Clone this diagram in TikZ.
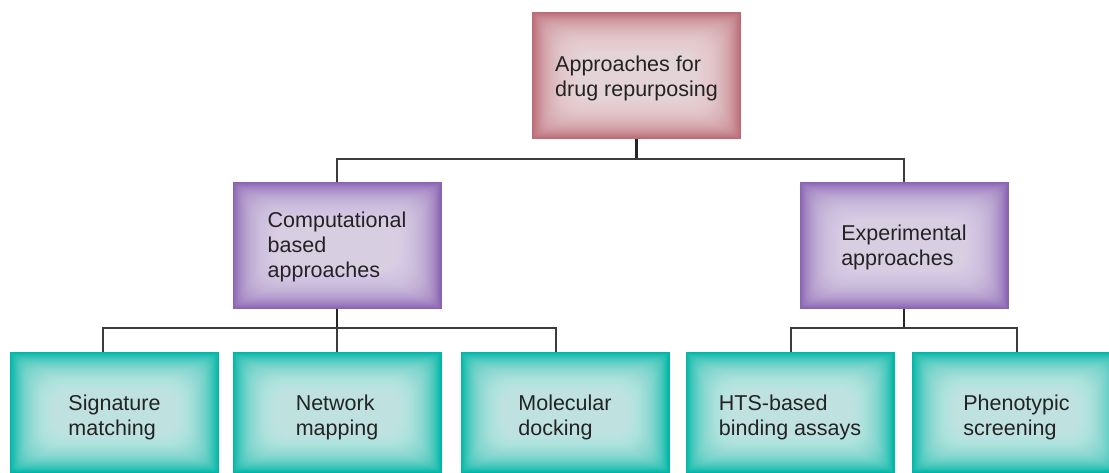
\documentclass[tikz,border=0pt]{standalone}
\usepackage{fontspec}
\setmainfont{Liberation Sans}
\definecolor{roseout}{RGB}{186,106,116}
\definecolor{rosein}{RGB}{244,228,231}
\definecolor{purpout}{RGB}{137,98,178}
\definecolor{purpin}{RGB}{232,224,242}
\definecolor{tealout}{RGB}{0,182,166}
\definecolor{tealin}{RGB}{218,242,240}
\definecolor{txt}{RGB}{35,35,35}
\definecolor{wire}{RGB}{60,60,60}
\tikzset{
  vignette/.style 2 args={fill=#1, draw=none, path picture={
      \foreach \i in {1,...,40} {
        \pgfmathsetmacro{\rad}{min(0.9*\i,18)}
        \fill[#2, opacity=0.06, rounded corners=\rad pt]
          ([shift={(1.1*\i pt,-\i pt)}]path picture bounding box.north west)
          rectangle
          ([shift={(-1.1*\i pt,\i pt)}]path picture bounding box.south east);
      }}},
  box/.style={minimum width=209pt, inner sep=0pt},
  lbl/.style={align=left, text=txt, inner sep=0pt,
    font=\fontsize{21.5}{25}\selectfont},
  rootbox/.style={box, minimum height=127pt, vignette={roseout}{rosein}},
  midbox/.style={box, minimum height=127pt, vignette={purpout}{purpin}},
  leafbox/.style={box, minimum height=121pt, vignette={tealout}{tealin}},
  stem/.style={draw=black!85, line width=2.6pt},
  bus/.style={draw=wire, line width=1.5pt},
}
\begin{document}
\begin{tikzpicture}[x=1pt, y=-1pt]
\useasboundingbox (0,0) rectangle (1109,473);
\clip (0,0) rectangle (1109,473);

% root
\node[rootbox, label={[lbl, yshift=-3pt]center:{Approaches for\\drug repurposing}}]
  (root) at (636.5,75.5) {};

% second level
\node[midbox, label={[lbl, yshift=-1pt]center:{Computational\\based\\approaches}}]
  (comp) at (337,245.5) {};
\node[midbox, label={[lbl, yshift=-2pt]center:{Experimental\\approaches}}]
  (expt) at (904,245.5) {};

% leaves
\node[leafbox, label={[lbl, yshift=-5pt]center:{Signature\\matching}}]
  (sig) at (114.5,412.5) {};
\node[leafbox, label={[lbl, yshift=-5pt]center:{Network\\mapping}}]
  (net) at (337,412.5) {};
\node[leafbox, label={[lbl, yshift=-5pt]center:{Molecular\\docking}}]
  (mol) at (565,412.5) {};
\node[leafbox, label={[lbl, yshift=-5pt]center:{HTS-based\\binding assays}}]
  (hts) at (790,412.5) {};
\node[leafbox, label={[lbl, yshift=-5pt]center:{Phenotypic\\screening}}]
  (phe) at (1016.5,412.5) {};

% junction points
\coordinate (j0) at (636.5,159);
\coordinate (j1) at (337,328);
\coordinate (j2) at (904,328);

% root to second level
\draw[stem] (root.south) -- (j0);
\draw[bus] (comp.north) |- (j0) -| (expt.north);

% computational branch
\draw[stem] (comp.south) -- (j1);
\draw[bus] ([xshift=-11.5pt]sig.north) |- (j1) -| ([xshift=-9pt]mol.north);
\draw[bus] (j1) -- (net.north);

% experimental branch
\draw[stem] (expt.south) -- (j2);
\draw[bus] ([xshift=1pt]hts.north) |- (j2) -| ([xshift=0.5pt]phe.north);
\end{tikzpicture}
\end{document}
